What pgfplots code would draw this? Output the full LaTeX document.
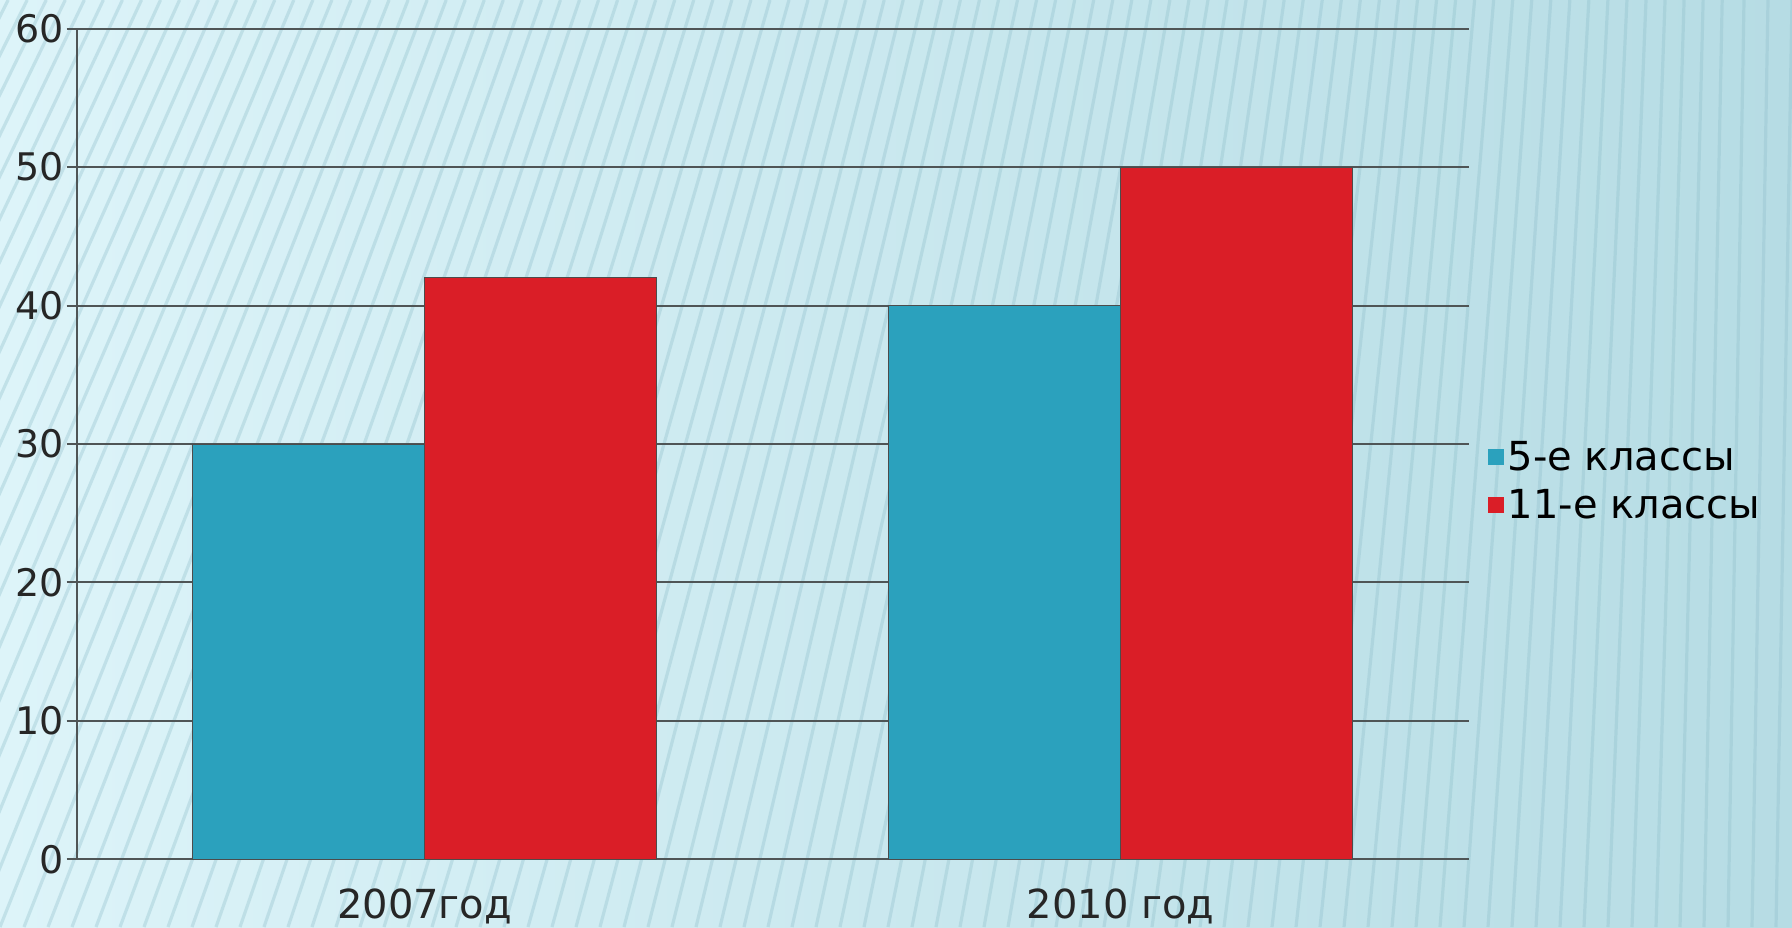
\documentclass[border=0pt]{standalone}
\usepackage{pgfplots}
\pgfplotsset{compat=1.18}
\usepackage{fontspec}
\setmainfont{DejaVu Sans}
\definecolor{bgl}{HTML}{DDF4F9}
\definecolor{bgr}{HTML}{B6DCE4}
\definecolor{cBlue}{HTML}{2BA1BD}
\definecolor{cRed}{HTML}{DA1E27}
\definecolor{gridc}{HTML}{4F5556}
\definecolor{stripe}{HTML}{8FBFCB}
\begin{document}
\begin{tikzpicture}
\shade[left color=bgl, right color=bgr] (0,0) rectangle (896pt,463.5pt);
\begin{scope}
\clip (0,0) rectangle (896pt,463.5pt);
\foreach \i in {-20,...,80}{
  \pgfmathsetmacro\xa{\i*12}
  \pgfmathsetmacro\off{max(8,185*(1-\xa/896))}
  \draw[stripe, opacity=0.35, line width=1.6pt] (\xa pt,0) -- (\xa pt+\off pt,463.5pt);
}
\end{scope}
\begin{axis}[
  at={(38.3pt,33.8pt)}, anchor=south west,
  scale only axis, width=696pt, height=415.4pt,
  xmin=-0.5, xmax=1.5, ymin=0, ymax=60,
  axis x line=bottom, axis y line=left,
  axis line style={gridc, line width=1pt, -},
  ytick={0,10,...,60},
  ymajorgrids, grid style={gridc, line width=1pt},
  tick style={gridc, line width=1pt},
  tick align=outside, major tick length=5pt,
  xtick={0,1}, xticklabels={2007год, 2010 год},
  x tick style={draw=none},
  extra x ticks={-0.5,0.5,1.5}, extra x tick labels={},
  extra x tick style={tick style={draw=gridc, line width=1pt}, major tick length=5pt},
  /pgf/number format/assume math mode=true,
  ticklabel style={font=\fontsize{20}{24}\selectfont, text=black!85},
  yticklabel style={font=\fontsize{19}{23}\selectfont, xshift=2pt},
  xticklabel style={yshift=-6pt},
  ybar=0pt, bar width=0.3333,
  legend style={at={(1.012,0.455)}, anchor=west, draw=none, fill=none,
    font=\fontsize{20}{25}\selectfont, row sep=4pt, inner sep=1pt},
  legend cell align=left,
  legend image code/.code={\fill[#1, draw=none] (0pt,-4pt) rectangle (8pt,4pt);},
]
\addplot[fill=cBlue, draw=gray!60!black, line width=0.4pt] coordinates {(0,30) (1,40)};
\addplot[fill=cRed, draw=gray!60!black, line width=0.4pt] coordinates {(0,42) (1,50)};
\legend{5-е классы, 11-е классы}
\end{axis}
\pgfresetboundingbox
\path (0,0) rectangle (896pt,463.5pt);
\end{tikzpicture}
\end{document}
